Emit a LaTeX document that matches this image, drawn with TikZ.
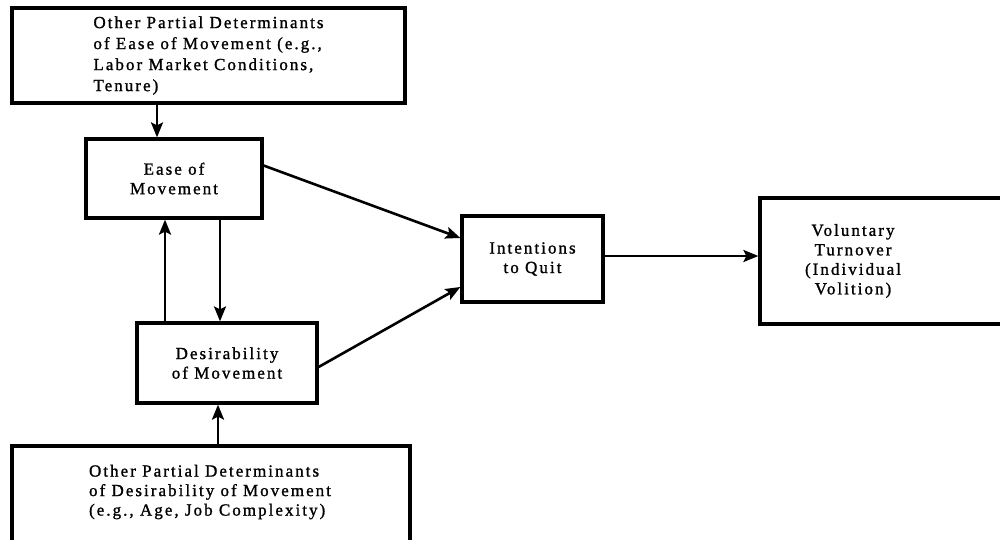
\documentclass[tikz,border=0pt]{standalone}
\usepackage{fontspec}
\setmainfont[LetterSpace=12,FakeBold=1.2]{Liberation Serif}
\usetikzlibrary{arrows.meta}
\begin{document}
\begin{tikzpicture}[x=1pt,y=-1pt,
  box/.style={draw, line width=3.2pt, inner sep=0pt},
  txt/.style={font=\fontsize{17}{19.5}\selectfont},
  arr/.style={line width=2.6pt, -{Stealth[length=15pt,width=12pt,inset=3pt]}}]
\useasboundingbox (0,0) rectangle (1000,539);
% boxes
\node[box, txt, align=left, minimum width=393pt, minimum height=95pt,
      font=\fontsize{17}{21}\selectfont] (top) at (208.5,55.5)
  {Other Partial Determinants\\of Ease of Movement (e.g.,\\Labor Market Conditions,\\Tenure)};
\node[box, txt, align=center, minimum width=176pt, minimum height=79pt] (ease) at (174,178.5)
  {Ease of\\Movement};
\node[box, txt, align=center, minimum width=180pt, minimum height=80pt] (des) at (227,363)
  {Desirability\\of Movement};
\node[box, minimum width=398pt, minimum height=100pt] (bot) at (211,496) {};
\node[txt, align=left] (bottxt) at (210,492)
  {Other Partial Determinants\\of Desirability of Movement\\(e.g., Age, Job Complexity)};
\node[box, txt, align=center, minimum width=141pt, minimum height=86pt] (int) at (532.5,259)
  {Intentions\\to Quit};
\node[box, minimum width=260pt, minimum height=126pt] (vt) at (890,261) {};
\node[txt, align=center] (vttxt) at (853,261)
  {Voluntary\\Turnover\\(Individual\\Volition)};
% connectors
\draw[arr] ([xshift=-17pt]ease.north |- top.south) -- ([xshift=-17pt]ease.north);
\draw[arr] ([xshift=-62pt]des.north) -- ([xshift=-62pt]des.north |- ease.south);
\draw[arr] ([xshift=46pt]ease.south) -- ([xshift=46pt]ease.south |- des.north);
\draw[arr] ([xshift=-9pt]des.south |- bot.north) -- ([xshift=-9pt]des.south);
\draw[arr] ([yshift=13pt]ease.east) -- ([yshift=21pt]int.west);
\draw[arr] ([yshift=-4pt]des.east) -- ([yshift=-28pt]int.west);
\draw[arr] ([yshift=3pt]int.east) -- ([yshift=3pt]int.east -| vt.west);
\end{tikzpicture}
\end{document}
